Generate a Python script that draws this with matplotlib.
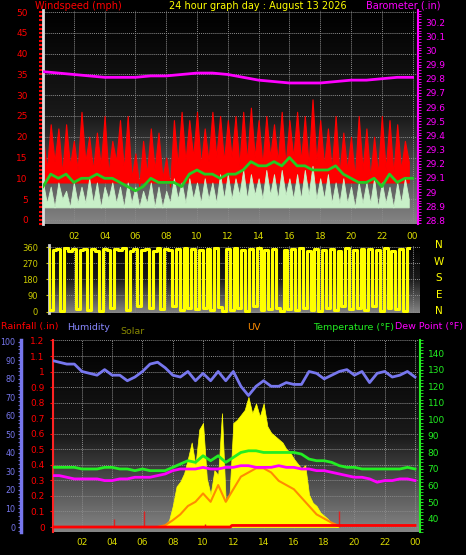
import numpy as np
import matplotlib
matplotlib.use("Agg")
import matplotlib.pyplot as plt
from matplotlib.ticker import MultipleLocator

# ---- data ----
hours_q = np.arange(96) * 0.25
gust = [20, 12, 23, 14, 22, 11, 23, 13, 19, 12, 26, 14,
        20, 12, 21, 13, 25, 11, 19, 14, 24, 12, 25, 10,
        16, 8, 19, 11, 22, 12, 21, 10, 15, 8, 24, 13,
        26, 14, 24, 15, 26, 13, 22, 14, 26, 15, 25, 14,
        24, 15, 25, 13, 26, 14, 27, 15, 24, 13, 25, 15,
        23, 14, 26, 13, 24, 15, 26, 14, 25, 13, 29, 14,
        24, 13, 22, 12, 25, 11, 21, 12, 20, 10, 25, 12,
        22, 10, 20, 11, 25, 12, 24, 11, 23, 12, 19, 14]
wind = [9, 4, 8, 3, 9, 5, 7, 3, 9, 4, 8, 4,
        10, 4, 9, 3, 8, 5, 9, 4, 8, 3, 9, 4,
        8, 3, 7, 4, 9, 3, 8, 3, 7, 4, 10, 5,
        9, 4, 10, 5, 9, 4, 10, 5, 9, 4, 11, 5,
        11, 5, 10, 6, 12, 5, 11, 6, 10, 5, 12, 6,
        11, 5, 12, 6, 10, 5, 11, 5, 12, 6, 13, 5,
        10, 5, 11, 4, 9, 4, 10, 4, 8, 3, 9, 4,
        9, 4, 10, 3, 9, 4, 8, 3, 9, 4, 10, 5]
direction = [340, 350, 10, 345, 350, 5, 355, 340, 350, 15, 345, 350,
             10, 350, 340, 5, 350, 345, 20, 350, 345, 355, 10, 340,
             350, 30, 345, 350, 20, 340, 355, 15, 350, 345, 30, 350,
             10, 355, 20, 350, 15, 345, 20, 350, 10, 355, 25, 5,
             350, 10, 355, 20, 345, 5, 350, 30, 355, 10, 345, 15,
             350, 20, 5, 345, 15, 350, 10, 355, 20, 340, 10, 350,
             5, 345, 20, 350, 10, 340, 30, 355, 15, 345, 20, 350,
             10, 350, 30, 345, 5, 355, 20, 340, 15, 350, 5, 355]

hours_h = np.arange(49) * 0.5
wind_avg = [8, 11, 10, 11, 9, 10, 10, 11, 10, 10, 9, 8,
            7, 8, 10, 9, 9, 9, 8, 11, 12, 11, 11, 10,
            11, 11, 12, 14, 13, 13, 14, 13, 15, 13, 13, 12,
            12, 12, 13, 11, 10, 9, 9, 10, 8, 11, 9, 10, 10]
humidity = [90, 89, 88, 88, 84, 83, 82, 85, 82, 82, 79, 81, 84, 88, 89, 86, 82,
            81, 84, 79, 83, 79, 84, 79, 84, 76, 71, 76, 79, 76, 76, 78, 77, 77,
            84, 83, 80, 82, 84, 85, 82, 84, 78, 83, 84, 81, 82, 84, 81]
temperature = [71, 71, 71, 71, 70, 70, 70, 71, 71, 70,
               70, 69, 70, 69, 69, 69, 71, 73, 75, 74,
               78, 75, 78, 74, 77, 80, 81, 81, 80, 80,
               80, 80, 80, 79, 76, 75, 75, 74, 72, 71,
               71, 70, 70, 70, 70, 70, 70, 71, 70]
dewpoint = [66, 66, 65, 64, 64, 64, 64, 63, 63, 64,
            64, 65, 65, 65, 66, 67, 69, 70, 70, 70,
            71, 70, 70, 71, 71, 72, 72, 71, 71, 71,
            72, 71, 71, 70, 70, 69, 69, 68, 67, 66,
            65, 65, 64, 62, 63, 63, 64, 64, 63]

hours_baro = np.arange(25)
baro = [29.85, 29.84, 29.83, 29.82, 29.81, 29.81, 29.81, 29.82, 29.82, 29.83,
        29.84, 29.84, 29.83, 29.81, 29.79, 29.78, 29.77, 29.77, 29.77, 29.78,
        29.79, 29.79, 29.80, 29.81, 29.81]

solar = [0, 5, 15, 40, 130, 250, 280, 330, 420, 520, 380, 600, 640, 300, 200,
         350, 320, 700, 150, 200, 640, 660, 690, 720, 800, 700, 760, 680, 760,
         620, 580, 560, 540, 520, 480, 460, 420, 390, 360, 380, 200, 150, 130,
         90, 70, 50, 20, 5, 0]
hours_solar = 7 + np.arange(len(solar)) * 0.25
uv = [0, 0.2, 0.8, 1.5, 2.5, 3, 4, 3, 5, 3, 4.5, 6, 6.5, 7, 7, 6.5, 5.5, 5,
      4.5, 3.5, 2.5, 1.5, 1, 0.5, 0.1]
hours_uv = 7 + np.arange(len(uv)) * 0.5
rain_t = [0, 11.8, 11.9, 24]
rain = [0, 0, 0.01, 0.01]
rain_spike_t = [4.1, 6.1, 10.1, 19.0]
rain_spike = [0.05, 0.1, 0.02, 0.1]

xticks = list(range(2, 25, 2))
xlabels = ["%02d" % (h % 24) for h in xticks]

YEL = "#ffff00"
FS = 6.5
fig = plt.figure(figsize=(4.66, 5.55), dpi=100, facecolor="black")


def gradient(ax):
    g = np.linspace(0, 1, 256).reshape(-1, 1)
    ax.imshow(g, cmap=matplotlib.colors.LinearSegmentedColormap.from_list(
        "bg", ["#000000", "#1a1a1a", "#858585"]), aspect="auto",
        extent=[0, 1, 0, 1], transform=ax.transAxes, zorder=0, origin="upper")
    ax.set_facecolor("black")
    ax.grid(True, color="#8a8a8a", lw=0.7, ls=(0, (1, 1)), zorder=1)


def style_spines(ax):
    for s in ax.spines.values():
        s.set_visible(False)


# ---- panel 1: wind + barometer ----
ax1 = fig.add_axes([43 / 466, 1 - 224 / 555, 375 / 466, 214 / 555])
gradient(ax1)
style_spines(ax1)
ax1.spines["left"].set_visible(True)
ax1.spines["left"].set_color("#dddddd")
ax1.spines["left"].set_linewidth(2)
ax1.fill_between(hours_q, 9, gust, color="#ff0000", lw=0.8, zorder=2)
ax1.fill_between(hours_q, 3, wind, color="#c8f0c8", lw=0.6, zorder=3)
ax1.plot(hours_h, wind_avg, color="#22cc22", lw=2, zorder=4)
ax1.set_xlim(0, 24.35)
ax1.set_ylim(-1, 50.5)
ax1.yaxis.set_major_locator(MultipleLocator(5))
ax1.yaxis.set_minor_locator(MultipleLocator(1))
ax1.tick_params(axis="y", colors="#ff0000", labelsize=FS, length=3, width=1.5,
                which="both", pad=8)
ax1.set_xticks(xticks)
ax1.tick_params(axis="x", length=0, labelbottom=False)
ax1b = ax1.twinx()
style_spines(ax1b)
ax1b.spines["right"].set_visible(True)
ax1b.spines["right"].set_color("#ff00ff")
ax1b.spines["right"].set_linewidth(1.5)
ax1b.plot(hours_baro, baro, color="#ff00ff", lw=2, zorder=5)
ax1b.set_ylim(28.775, 30.285)
ax1b.set_yticks([28.8 + 0.1 * i for i in range(15)])
ax1b.set_yticklabels(["%g" % round(28.8 + 0.1 * i, 1) for i in range(15)])
ax1b.yaxis.set_minor_locator(MultipleLocator(0.02))
ax1b.tick_params(axis="y", colors="#ff00ff", labelsize=FS, length=2,
                 which="both")

fig.text(35 / 466, 1 - 6 / 555, "Windspeed (mph)", color="#ff0000",
         fontsize=7, va="center")
fig.text(258 / 466, 1 - 6 / 555, "24 hour graph day : August 13 2026",
         color=YEL, fontsize=7, va="center", ha="center")
fig.text(440 / 466, 1 - 6 / 555, "Barometer (.in)", color="#ff00ff",
         fontsize=7, va="center", ha="right")

# ---- panel 2: wind direction ----
ax2 = fig.add_axes([49 / 466, 1 - 313 / 555, 371 / 466, 68 / 555])
gradient(ax2)
style_spines(ax2)
ax2.spines["left"].set_visible(True)
ax2.spines["left"].set_color("#cccccc")
ax2.spines["left"].set_linewidth(2)
ax2.plot(hours_q, direction, color=YEL, lw=2.2, zorder=3, drawstyle="steps-mid")
ax2.set_xlim(0.39, 24.48)
ax2.set_ylim(-8, 372)
ax2.set_yticks([0, 90, 180, 270, 360])
ax2.tick_params(axis="y", colors="#cccc00", labelsize=6, length=2, pad=6)
ax2.xaxis.tick_top()
ax2.set_xticks(xticks)
ax2.set_xticklabels(xlabels)
ax2.tick_params(axis="x", colors="#dddd00", labelsize=FS, length=0, pad=3)
for i, lab in enumerate(["N", "W", "S", "E", "N"]):
    fig.text(439 / 466, 1 - (245 + i * 16.5) / 555, lab, color=YEL,
             fontsize=7.5, ha="center", va="center")

# ---- panel 3: rain, humidity, solar, uv, temperature ----
ax3 = fig.add_axes([53 / 466, 1 - 532 / 555, 367 / 466, 192 / 555])
gradient(ax3)
style_spines(ax3)
ax3.spines["left"].set_visible(True)
ax3.spines["left"].set_color("#ff2222")
ax3.spines["left"].set_linewidth(1.5)
ax3.set_xlim(0.09, 24.33)
ax3.set_ylim(-0.032, 1.203)
ax3.set_yticks([0.1 * i for i in range(13)])
ax3.set_yticklabels(["0"] + ["%g" % round(0.1 * i, 1) for i in range(1, 13)])
ax3.tick_params(axis="y", colors="#ff0000", labelsize=FS, length=2, pad=4)
ax3.set_xticks(xticks)
ax3.set_xticklabels(xlabels)
ax3.tick_params(axis="x", colors="#dddd00", labelsize=FS, length=0, pad=4)

ax_sol = ax3.twinx()
style_spines(ax_sol)
ax_sol.set_yticks([])
ax_sol.fill_between(hours_solar, 0, solar, color="#ffff00", lw=0.5, zorder=2)
ax_sol.set_ylim(-30, 1150)

ax_uv = ax3.twinx()
style_spines(ax_uv)
ax_uv.set_yticks([])
ax_uv.plot(hours_uv, uv, color="#ff8c00", lw=1.5, zorder=3)
ax_uv.set_ylim(-0.6, 22.3)

ax_t = ax3.twinx()
style_spines(ax_t)
ax_t.spines["right"].set_visible(True)
ax_t.spines["right"].set_color("#22ee22")
ax_t.spines["right"].set_linewidth(1.5)
ax_t.plot(hours_h, temperature, color="#22ee22", lw=2, zorder=4)
ax_t.plot(hours_h, dewpoint, color="#ff00ff", lw=2, zorder=4)
ax_t.set_ylim(31.9, 148)
ax_t.set_yticks(range(40, 141, 10))
ax_t.yaxis.set_minor_locator(MultipleLocator(2))
ax_t.tick_params(axis="y", colors="#22ee22", labelsize=FS, length=2,
                 which="both")

ax_h = ax3.twinx()
style_spines(ax_h)
ax_h.spines["left"].set_visible(True)
ax_h.spines["left"].set_position(("outward", 23))
ax_h.spines["left"].set_color("#7777ee")
ax_h.spines["left"].set_linewidth(2.5)
ax_h.yaxis.set_ticks_position("left")
ax_h.yaxis.set_label_position("left")
ax_h.plot(hours_h, humidity, color="#7777ee", lw=2, zorder=5)
ax_h.set_ylim(-2.7, 101)
ax_h.set_yticks(range(0, 101, 10))
ax_h.yaxis.set_minor_locator(MultipleLocator(2))
ax_h.tick_params(axis="y", colors="#7777ee", labelsize=5.8, length=2,
                 which="both", pad=2)

ax_r = ax3.twinx()
style_spines(ax_r)
ax_r.set_yticks([])
ax_r.set_ylim(-0.032, 1.203)
ax_r.plot(rain_t, rain, color="#ff0000", lw=2, zorder=6)
ax_r.vlines(rain_spike_t, 0, rain_spike, color="#dd2222", lw=1)

for x, txt, col, yy in [(1, "Rainfall (.in)", "#ff0000", 327),
                        (67, "Humidity", "#8888ff", 327),
                        (120, "Solar", "#888800", 332),
                        (247, "UV", "#ff8c00", 327),
                        (313, "Temperature (°F)", "#22ee22", 327),
                        (395, "Dew Point (°F)", "#ff00ff", 327)]:
    fig.text(x / 466, 1 - yy / 555, txt, color=col, fontsize=6.8, va="center")

fig.savefig("out.png", dpi=100, facecolor="black")
